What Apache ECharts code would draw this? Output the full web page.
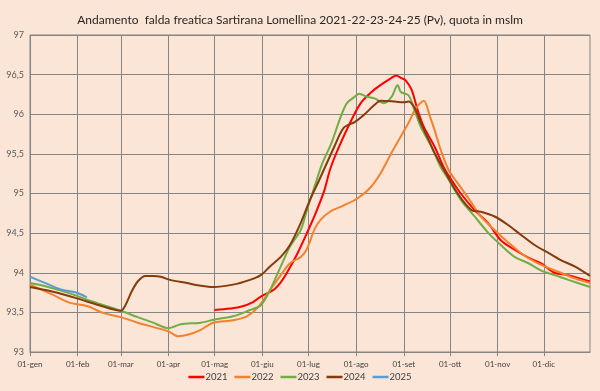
<!DOCTYPE html>
<html><head><meta charset="utf-8">
<script src="https://cdn.jsdelivr.net/npm/echarts@6/dist/echarts.min.js"></script>
<style>html,body{margin:0;padding:0;background:#FBE5D6;}#c{width:600px;height:391px;}</style>
</head><body><div id="c"></div>
<script>
// Tick labels (months, Italian) and days per month
const monthNames = ['gen','feb','mar','apr','mag','giu','lug','ago','set','ott','nov','dic'];
const monthDays = [31,28,31,30,31,30,31,31,30,31,30,31];
const yTicks = [93, 93.5, 94, 94.5, 95, 95.5, 96, 96.5, 97];

// Series: day-of-year index (0 = 01-gen) and water level (m slm)
const days2021 = [120,130,137,145,150,158,163,167,174,180,185,191,195,200,209,215,222,228,235,238,241,244,248,252,256,263,269,274,280,289,298,306,315,324,332,341,350,364];
const vals2021 = [93.53,93.55,93.57,93.63,93.70,93.78,93.88,94.00,94.25,94.50,94.72,95.02,95.30,95.55,95.93,96.14,96.28,96.37,96.46,96.49,96.46,96.43,96.31,96.05,95.84,95.59,95.33,95.17,95.00,94.79,94.62,94.41,94.29,94.19,94.12,94.00,93.97,93.89];

const days2022 = [0,15,26,37,48,59,70,90,96,103,111,119,132,141,148,156,163,169,176,180,185,189,195,204,213,221,228,236,246,251,256,260,263,267,272,278,285,293,302,311,319,328,337,345,354,364];
const vals2022 = [93.85,93.72,93.62,93.58,93.49,93.44,93.37,93.26,93.20,93.22,93.28,93.37,93.40,93.45,93.56,93.78,93.97,94.12,94.20,94.30,94.55,94.67,94.77,94.85,94.94,95.07,95.26,95.55,95.89,96.08,96.17,95.97,95.80,95.55,95.30,95.13,94.94,94.71,94.54,94.38,94.25,94.14,94.06,94.00,93.93,93.87];

const days2023 = [0,10,26,40,59,70,80,90,98,111,120,132,143,150,156,163,169,176,180,185,190,196,202,206,211,214,219,224,230,235,239,241,246,250,254,261,267,271,280,289,298,306,315,324,332,341,350,364];
const vals2023 = [93.87,93.83,93.74,93.64,93.52,93.44,93.37,93.30,93.35,93.37,93.41,93.45,93.53,93.59,93.78,94.08,94.33,94.54,94.79,95.09,95.38,95.64,95.97,96.14,96.22,96.26,96.22,96.20,96.14,96.22,96.37,96.28,96.24,96.05,95.84,95.59,95.33,95.21,94.92,94.71,94.50,94.35,94.20,94.12,94.03,93.97,93.91,93.82];

const days2024 = [0,15,30,45,59,62,66,70,75,80,85,91,102,110,119,132,143,150,156,163,169,176,182,188,198,204,211,217,224,228,237,243,246,250,254,259,263,269,278,287,293,302,311,319,328,337,345,354,364];
const vals2024 = [93.82,93.76,93.68,93.59,93.52,93.59,93.76,93.89,93.96,93.96,93.95,93.91,93.87,93.84,93.82,93.85,93.91,93.97,94.08,94.20,94.35,94.63,94.92,95.17,95.60,95.83,95.90,95.99,96.12,96.17,96.16,96.15,96.16,96.08,95.89,95.68,95.51,95.30,95.00,94.79,94.77,94.71,94.60,94.48,94.35,94.25,94.16,94.08,93.96];

const days2025 = [0,10,20,30,37];
const vals2025 = [93.95,93.87,93.79,93.75,93.69];

const seriesNames = ['2021','2022','2023','2024','2025'];
const seriesColors = ['#FF0000','#F4812E','#70AD47','#843C0C','#5B9BD5'];

// Build category labels
const categories = [];
monthNames.forEach((m, i) => {
  for (let d = 1; d <= monthDays[i]; d++) categories.push((d < 10 ? '0' : '') + d + '-' + m);
});
const isMonthStart = (idx, val) => typeof val === 'string' && val.indexOf('01-') === 0;

function pairs(ds, vs) { return ds.map((d, i) => [d, vs[i]]); }
const allDays = [days2021, days2022, days2023, days2024, days2025];
const allVals = [vals2021, vals2022, vals2023, vals2024, vals2025];

const chart = echarts.init(document.getElementById('c'), null, {renderer: 'canvas'});
chart.setOption({
  backgroundColor: '#FBE5D6',
  animation: false,
  title: {
    text: 'Andamento  falda freatica Sartirana Lomellina 2021-22-23-24-25 (Pv), quota in mslm',
    left: 'center', top: 9,
    textStyle: {fontFamily: 'Lato', fontSize: 12, fontWeight: 'normal', color: '#262626'}
  },
  grid: {left: 30, right: 10, top: 35, bottom: 39, show: true, borderColor: '#858585', borderWidth: 1},
  legend: {
    bottom: 4, left: 'center', itemWidth: 16, itemHeight: 2.5, itemGap: 7,
    icon: 'rect',
    textStyle: {fontFamily: 'Lato', fontSize: 9.5, color: '#404040', padding: [0,0,0,-4]},
    data: seriesNames
  },
  xAxis: {
    type: 'category', data: categories, boundaryGap: false,
    axisLine: {lineStyle: {color: '#858585'}},
    axisTick: {show: true, interval: isMonthStart, length: 4, lineStyle: {color: '#858585'}},
    axisLabel: {interval: isMonthStart, fontFamily: 'Lato', fontSize: 8, color: '#404040', margin: 8, hideOverlap: false},
    splitLine: {show: true, interval: isMonthStart, lineStyle: {color: '#858585', width: 1}}
  },
  yAxis: {
    type: 'value', min: 93, max: 97, interval: 0.5,
    axisLine: {show: false}, axisTick: {show: false},
    axisLabel: {fontFamily: 'Lato', fontSize: 9, color: '#595959', margin: 6,
      formatter: v => String(v).replace('.', ',')},
    splitLine: {lineStyle: {color: '#858585', width: 1}}
  },
  series: seriesNames.map((n, i) => ({
    name: n, type: 'line', symbol: 'none', smooth: 0.3,
    data: pairs(allDays[i], allVals[i]),
    lineStyle: {color: seriesColors[i], width: 2},
    itemStyle: {color: seriesColors[i]}
  }))
});
</script></body></html>
